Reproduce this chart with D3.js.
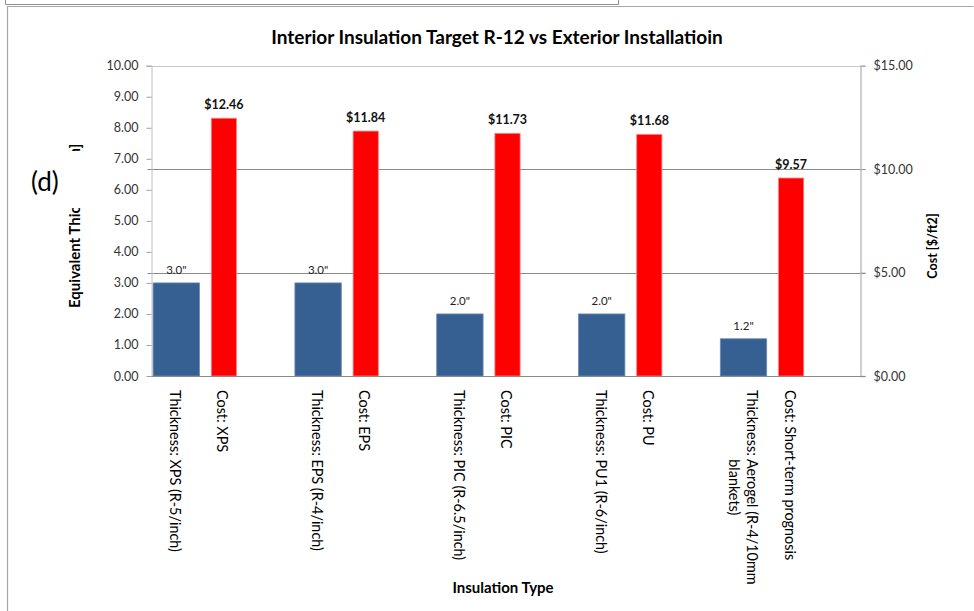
<!DOCTYPE html>
<html>
<head>
<meta charset="utf-8">
<script src="https://cdn.jsdelivr.net/npm/d3@7/dist/d3.min.js"></script>
<style>
  html, body { margin: 0; padding: 0; background: #fff; }
  svg { display: block; font-family: Lato, "Open Sans", sans-serif; }
</style>
</head>
<body>
<svg id="chart" width="974" height="611"></svg>
<script>
// ---- data ----
const materials = ["XPS", "EPS", "PIC", "PU", "Aerogel"];
const thicknessLabels = [
  ["Thickness: XPS (R-5/inch)"],
  ["Thickness: EPS (R-4/inch)"],
  ["Thickness: PIC (R-6.5/inch)"],
  ["Thickness: PU1  (R-6/inch)"],
  ["Thickness: Aerogel (R-4/10mm", "blankets)"]
];
const costLabels = ["Cost: XPS", "Cost: EPS", "Cost: PIC", "Cost: PU", "Cost: Short-term prognosis"];
const thickness = [3.0, 3.0, 2.0, 2.0, 1.2];
const cost = [12.46, 11.84, 11.73, 11.68, 9.57];
const thicknessText = ['3.0"', '3.0"', '2.0"', '2.0"', '1.2"'];
const leftTicks = [0, 1, 2, 3, 4, 5, 6, 7, 8, 9, 10];
const rightTicks = [0, 5, 10, 15];
const title = "Interior Insulation Target R-12 vs Exterior Installatioin";
const leftTitle = "Equivalent Thickness [in]";
const rightTitle = "Cost [$/ft2]";
const xTitle = "Insulation Type";
const panelLabel = "(d)";

// ---- layout ----
const svg = d3.select("#chart");
const plot = { left: 151.5, right: 860.5, top: 65.7, bottom: 376 };

const x = d3.scaleBand().domain(materials).range([plot.left, plot.right]).padding(0);
const yL = d3.scaleLinear().domain([0, 10]).range([plot.bottom, plot.top]);
const yR = d3.scaleLinear().domain([0, 15]).range([plot.bottom, plot.top]);
const bw = x.bandwidth();
// positions within each group (fractions of the band)
const blue0 = 1.6 / 141.8, blue1 = 48 / 141.8;
const red0 = 59.8 / 141.8, red1 = 85 / 141.8;
const thickLabelPos = 24 / 141.8, costLabelPos = 71 / 141.8;

// frames
svg.append("path").attr("d", "M5.5,0 V4.5 H618.5 V0").attr("fill", "none").attr("stroke", "#8e8e8e").attr("stroke-width", 1);
svg.append("path").attr("d", "M7.5,611 V6.5 H973.5").attr("fill", "none").attr("stroke", "#a6a6a6").attr("stroke-width", 1.2);

// gridlines (secondary axis majors)
svg.append("g").selectAll("line").data(rightTicks.filter(d => d > 0)).join("line")
  .attr("x1", plot.left - 4).attr("x2", plot.right + 5)
  .attr("y1", d => Math.round(yR(d)) + 0.5).attr("y2", d => Math.round(yR(d)) + 0.5)
  .attr("stroke", d => d === 15 ? "#c8c8c8" : "#8a8a8a").attr("stroke-width", 1);

// left axis
const gL = svg.append("g").attr("transform", `translate(${plot.left},0)`)
  .call(d3.axisLeft(yL).tickValues(leftTicks).tickFormat(d3.format(".2f")).tickSize(5).tickPadding(8));
gL.select(".domain").attr("stroke", "#c0c0c0");
gL.selectAll(".tick line").attr("stroke", "#a0a0a0");
gL.selectAll(".tick text").attr("font-size", 12.5).attr("fill", "#333").attr("font-family", "Lato, sans-serif");

// right axis
const gR = svg.append("g").attr("transform", `translate(${plot.right},0)`)
  .call(d3.axisRight(yR).tickValues(rightTicks).tickFormat(d => "$" + d3.format(".2f")(d)).tickSize(5).tickPadding(8));
gR.select(".domain").attr("stroke", "#c0c0c0").attr("stroke-width", 1.5);
gR.selectAll(".tick line").attr("stroke", "#a0a0a0");
gR.selectAll(".tick text").attr("font-size", 12.5).attr("fill", "#333").attr("font-family", "Lato, sans-serif");

// bars
const groups = materials.map((m, i) => ({ m, i, t: thickness[i], c: cost[i] }));
svg.append("g").selectAll("rect").data(groups).join("rect")
  .attr("x", d => x(d.m) + blue0 * bw).attr("width", (blue1 - blue0) * bw)
  .attr("y", d => yL(d.t)).attr("height", d => yL(0) - yL(d.t))
  .attr("fill", "#376092").attr("stroke", "#6d8cb5").attr("stroke-width", 0.8);
svg.append("g").selectAll("rect").data(groups).join("rect")
  .attr("x", d => x(d.m) + red0 * bw).attr("width", (red1 - red0) * bw)
  .attr("y", d => yR(d.c)).attr("height", d => yR(0) - yR(d.c))
  .attr("fill", "#ff0000").attr("stroke", "#ff8080").attr("stroke-width", 0.8);

// x axis line
svg.append("line").attr("x1", plot.left).attr("x2", plot.right + 5)
  .attr("y1", plot.bottom + 0.5).attr("y2", plot.bottom + 0.5).attr("stroke", "#8a8a8a");

// value labels
svg.append("g").selectAll("text").data(groups).join("text")
  .attr("x", d => x(d.m) + (blue0 + blue1) / 2 * bw).attr("y", d => yL(d.t) - 9)
  .attr("text-anchor", "middle").attr("font-size", 11.5).attr("fill", "#222")
  .text(d => thicknessText[d.i]);
svg.append("g").selectAll("text").data(groups).join("text")
  .attr("x", d => x(d.m) + (red0 + red1) / 2 * bw).attr("y", d => yR(d.c) - 9)
  .attr("text-anchor", "middle").attr("font-size", 12.5).attr("font-weight", "bold").attr("fill", "#111")
  .text(d => "$" + d3.format(".2f")(d.c));

// category labels (rotated)
const labTop = 390;
const fsCat = 14.4;
groups.forEach(d => {
  const lines = thicknessLabels[d.i];
  const cx = x(d.m) + thickLabelPos * bw;
  const lh = 18.3;
  const n = lines.length;
  const g = svg.append("g");
  let firstLen = 0;
  lines.forEach((ln, k) => {
    const lx = cx + ((n - 1) / 2 - k) * lh;
    const t = g.append("text").attr("transform", `translate(${lx},${labTop}) rotate(90)`)
      .attr("dy", "0.35em").attr("font-size", fsCat).attr("fill", "#000").text(ln);
    if (k === 0) {
      firstLen = t.node().getComputedTextLength();
    } else {
      t.attr("transform", `translate(${lx},${labTop + firstLen / 2}) rotate(90)`).attr("text-anchor", "middle");
    }
  });
  svg.append("text").attr("transform", `translate(${x(d.m) + costLabelPos * bw},${labTop}) rotate(90)`)
    .attr("dy", "0.35em").attr("font-size", fsCat).attr("fill", "#000").text(costLabels[d.i]);
});

// titles
svg.append("text").attr("x", 497).attr("y", 44).attr("text-anchor", "middle")
  .attr("font-size", 19).attr("font-weight", "bold").attr("fill", "#000").text(title);
svg.append("text").attr("transform", "translate(80,308) rotate(-90)").attr("text-anchor", "start")
  .attr("font-size", 15).attr("font-weight", "bold").attr("fill", "#000").text(leftTitle);
svg.append("text").attr("transform", "translate(937,246) rotate(-90)").attr("text-anchor", "middle")
  .attr("font-size", 12.5).attr("font-weight", "bold").attr("fill", "#000").text(rightTitle);
svg.append("text").attr("x", 503).attr("y", 593).attr("text-anchor", "middle")
  .attr("font-size", 15).attr("font-weight", "bold").attr("fill", "#000").text(xTitle);

// panel label box covering part of the left title
svg.append("rect").attr("x", 18).attr("y", 151).attr("width", 80).attr("height", 57).attr("fill", "#fff");
svg.append("text").attr("x", 31).attr("y", 191).attr("font-size", 26).attr("fill", "#000").text(panelLabel);
</script>
</body>
</html>
